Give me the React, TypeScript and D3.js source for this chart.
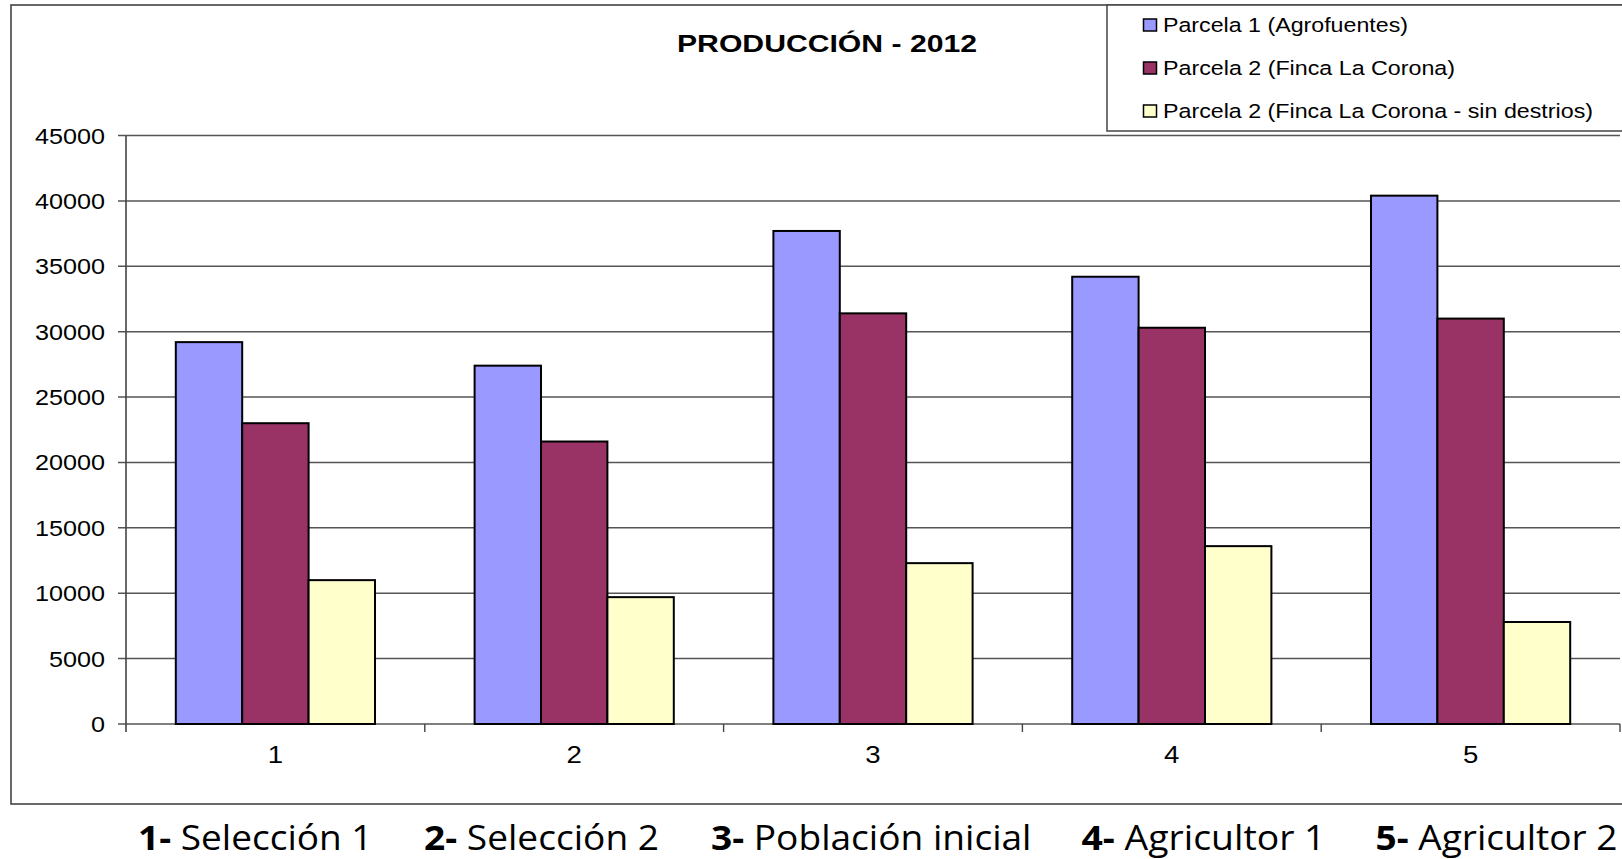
import React from "react";
import * as d3 from "d3";

// Categories (treatments) and production per plot
const categories = ["1", "2", "3", "4", "5"];
const seriesNames = [
  "Parcela 1 (Agrofuentes)",
  "Parcela 2 (Finca La Corona)",
  "Parcela 2 (Finca La Corona - sin destrios)",
];
const parcela1 = [29200, 27400, 37700, 34200, 40400];
const parcela2 = [23000, 21600, 31400, 30300, 31000];
const parcela2SinDestrios = [11000, 9700, 12300, 13600, 7800];
const seriesColors = ["#9999FF", "#993366", "#FFFFCC"];
const yTicks = [0, 5000, 10000, 15000, 20000, 25000, 30000, 35000, 40000, 45000];
const captionNumbers = ["1", "2", "3", "4", "5"];
const captionTexts = ["Selección 1", "Selección 2", "Población inicial", "Agricultor 1", "Agricultor 2"];
const title = "PRODUCCIÓN  - 2012";

const W = 1622;
const H = 859;

export default function App() {
  const seriesValues = [parcela1, parcela2, parcela2SinDestrios];

  const x0 = d3.scaleBand<string>().domain(categories).range([126, 1620]).padding(0);
  const x1 = d3
    .scaleBand<number>()
    .domain([0, 1, 2])
    .range([0, x0.bandwidth()])
    .paddingInner(0)
    .paddingOuter(0.75);
  const y = d3.scaleLinear().domain([0, 45000]).range([724, 135.5]);

  const plotLeft = 126;
  const plotRight = 1620;
  const axisFont = "'Liberation Sans', Arial, sans-serif";

  // caption layout: start x and total width of each entry
  const captionX = [138, 424, 711, 1081.5, 1375.5];
  const captionW = [234.5, 235, 320.5, 244, 242];

  const legendRowsY = [32, 75, 118];
  const legendTextW = [245, 292, 430];

  return (
    <svg
      width={W}
      height={H}
      style={{ position: "absolute", left: 0, top: 0, display: "block", background: "#fff" }}
    >
      {/* chart frame */}
      <rect x={11} y={5} width={1640} height={799} fill="#fff" stroke="#444" strokeWidth={1.6} />

      {/* title */}
      <text
        x={677}
        y={51.5}
        fontFamily={axisFont}
        fontWeight="bold"
        fontSize={24}
        textLength={300}
        lengthAdjust="spacingAndGlyphs"
        fill="#000"
      >
        {title}
      </text>

      {/* gridlines */}
      {yTicks.map((t) => (
        <line
          key={"g" + t}
          x1={plotLeft - 8}
          x2={plotRight}
          y1={y(t)}
          y2={y(t)}
          stroke="#555"
          strokeWidth={1.5}
        />
      ))}

      {/* y tick labels */}
      {yTicks.map((t) => {
        const s = String(t);
        return (
          <text
            key={"yl" + t}
            x={105}
            y={y(t) + 8}
            textAnchor="end"
            fontFamily={axisFont}
            fontSize={22.5}
            textLength={s.length * 14}
            lengthAdjust="spacingAndGlyphs"
            fill="#000"
          >
            {s}
          </text>
        );
      })}

      {/* y axis */}
      <line x1={plotLeft} x2={plotLeft} y1={y(45000)} y2={y(0) + 8} stroke="#444" strokeWidth={1.6} />

      {/* x category ticks */}
      {categories.map((c) => (
        <line
          key={"xt" + c}
          x1={(x0(c) as number) + x0.bandwidth()}
          x2={(x0(c) as number) + x0.bandwidth()}
          y1={y(0)}
          y2={y(0) + 8}
          stroke="#444"
          strokeWidth={1.4}
        />
      ))}

      {/* bars */}
      {categories.map((c, ci) => (
        <g key={"grp" + c} transform={`translate(${x0(c)},0)`}>
          {seriesValues.map((vals, si) => (
            <rect
              key={"b" + si}
              x={x1(si) as number}
              y={y(vals[ci])}
              width={x1.bandwidth()}
              height={y(0) - y(vals[ci])}
              fill={seriesColors[si]}
              stroke="#000"
              strokeWidth={2}
            />
          ))}
        </g>
      ))}

      {/* x labels */}
      {categories.map((c) => {
        const cx = (x0(c) as number) + x0.bandwidth() / 2;
        return (
          <text
            key={"xl" + c}
            x={cx}
            y={763}
            textAnchor="middle"
            fontFamily={axisFont}
            fontSize={23}
            fill="#000"
            transform={`translate(${cx},0) scale(1.2,1) translate(${-cx},0)`}
          >
            {c}
          </text>
        );
      })}

      {/* legend */}
      <rect x={1107} y={5} width={540} height={126} fill="#fff" stroke="#444" strokeWidth={1.5} />
      {seriesNames.map((n, i) => (
        <g key={"lg" + i}>
          <rect
            x={1143.5}
            y={legendRowsY[i] - 13}
            width={13}
            height={12}
            fill={seriesColors[i]}
            stroke="#000"
            strokeWidth={1.5}
          />
          <text
            x={1163}
            y={legendRowsY[i]}
            fontFamily={axisFont}
            fontSize={20.5}
            textLength={legendTextW[i]}
            lengthAdjust="spacingAndGlyphs"
            fill="#000"
          >
            {n}
          </text>
        </g>
      ))}

      {/* caption under the chart */}
      {captionNumbers.map((num, i) => (
        <text
          key={"cap" + i}
          x={captionX[i]}
          y={849.5}
          fontFamily="'Open Sans', 'Noto Sans', sans-serif"
          fontSize={34}
          textLength={captionW[i]}
          lengthAdjust="spacingAndGlyphs"
          fill="#000"
        >
          <tspan fontWeight="bold">{num}-</tspan>
          <tspan> {captionTexts[i]}</tspan>
        </text>
      ))}
    </svg>
  );
}
